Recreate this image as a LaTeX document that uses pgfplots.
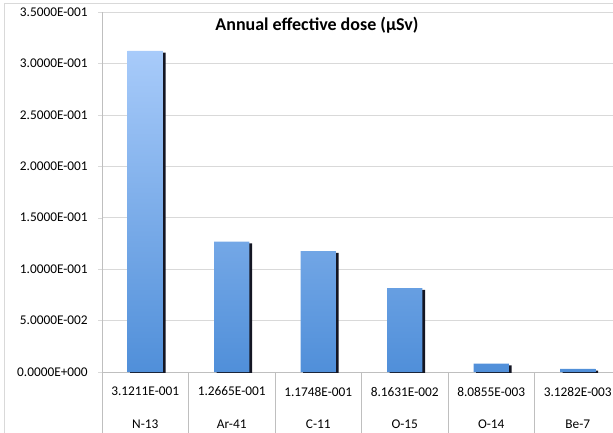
\documentclass[border=0pt]{standalone}
\usepackage{pgfplots}
\pgfplotsset{compat=1.18}
\usepackage{fontspec}
\setmainfont{Carlito}
\definecolor{gridgray}{RGB}{217,217,217}
\definecolor{axisgray}{RGB}{191,191,191}
\definecolor{bartop}{RGB}{168,203,250}
\definecolor{barbot}{RGB}{80,143,217}
\definecolor{shadowc}{RGB}{20,22,35}
\begin{document}
\begin{tikzpicture}
% 1px = 0.75pt, page 613x432 px
\draw[gridgray] (3pt,-330pt) -- (3pt,-2.25pt) -- (470pt,-2.25pt);
\begin{axis}[
  at={(76.5pt,-279pt)}, anchor=south west,
  scale only axis, width=389.25pt, height=270pt,
  xmin=-0.5, xmax=5.5, ymin=0, ymax=0.35,
  axis x line*=bottom, axis y line*=left,
  axis line style={draw=axisgray},
  tick align=outside, major tick length=3pt,
  font=\fontsize{10}{12}\selectfont,
  ytick={0,0.05,0.1,0.15,0.2,0.25,0.3,0.35},
  yticklabels={0.0000E+000,5.0000E-002,1.0000E-001,1.5000E-001,2.0000E-001,2.5000E-001,3.0000E-001,3.5000E-001},
  yticklabel style={anchor=east, inner sep=0pt, xshift=-7.5pt},
  ytick style={draw=gridgray},
  ymajorgrids, major grid style={draw=gridgray},
  xtick={0,1,2,3,4,5},
  xticklabels={{3.1211E-001\\N-13},{1.2665E-001\\Ar-41},{1.1748E-001\\C-11},
               {8.1631E-002\\O-15},{8.0855E-003\\O-14},{3.1282E-003\\Be-7}},
  xticklabel style={align=center, anchor=north, inner sep=0pt,
                    font=\fontsize{10}{24.5}\selectfont, yshift=-8pt},
  xtick style={draw=none},
  extra x ticks={-0.5,0.5,1.5,2.5,3.5,4.5,5.5},
  extra x tick labels={},
  extra x tick style={major tick length=50pt, xtick style={draw=axisgray}},
  ybar, bar width=26.6pt,
]
% shadow strip behind each bar
\addplot[draw=none, fill=shadowc, bar shift=2pt, yshift=-1.3pt]
  coordinates {(0,0.31211) (1,0.12665) (2,0.11748) (3,0.081631) (4,0.0080855) (5,0.0031282)};
\addplot[draw=none, top color=bartop, bottom color=barbot, bar shift=0pt]
  coordinates {(0,0.31211) (1,0.12665) (2,0.11748) (3,0.081631) (4,0.0080855) (5,0.0031282)};
\end{axis}
\node[font=\bfseries\fontsize{13.5}{15}\selectfont] at (237.75pt,-18.75pt) {Annual effective dose (µSv)};
\pgfresetboundingbox
\useasboundingbox (0,0) rectangle (459.75pt,-324pt);
\end{tikzpicture}
\end{document}
